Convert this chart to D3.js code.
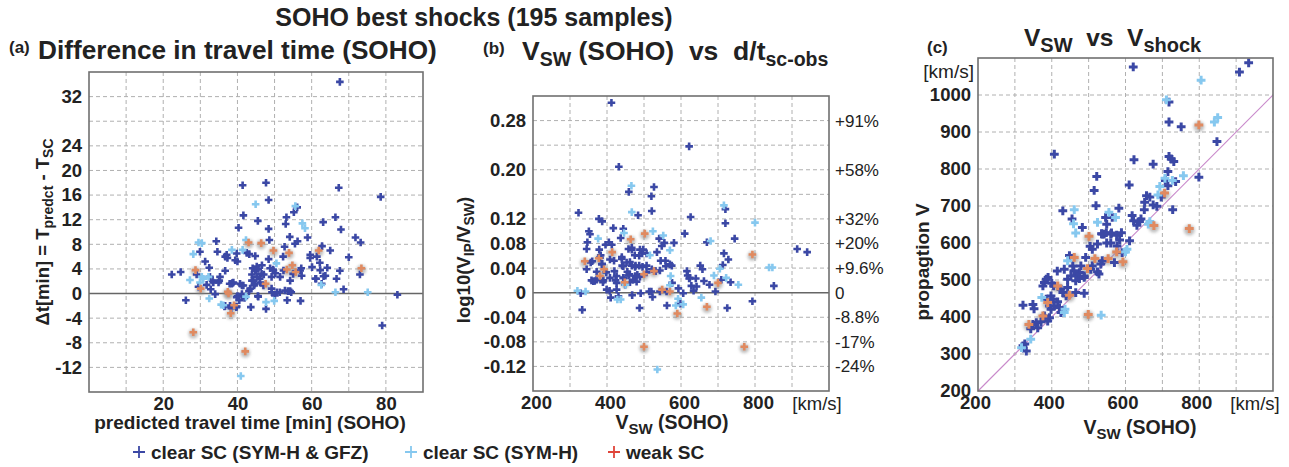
<!DOCTYPE html>
<html lang="en">
<head>
<meta charset="utf-8" />
<title>SOHO best shocks</title>
<script src="https://cdn.jsdelivr.net/npm/d3@7"></script>
<style>
body { margin: 0; background: #fff; }
svg text { font-family: "Liberation Sans", Arial, Helvetica, sans-serif; fill: #222; white-space: pre; }
</style>
</head>
<body>
<script>
// ---- panel (a): predicted travel time [min] vs dt [min]
var aDark = [[22.3,3.1],[24.7,3.5],[26.1,-1.1],[29,3.1],[29.9,6.8],[29.5,1.1],[31.3,5.2],[31.7,1.4],[32.8,0.7],[33.5,1.8],[34,-0.1],[34.3,8.5],[34.6,6.8],[35.1,2.1],[36.7,6.0],[36.7,3.7],[36.5,-2.1],[37.1,6.3],[37.9,1.6],[38.3,-2.4],[38.6,1.7],[39.4,5.4],[39.7,-2.2],[40,5.2],[40.3,10.7],[40.7,1.6],[40,-0.4],[40.5,-1.1],[41.2,1.3],[41.9,-0.7],[42.5,6.6],[43.1,0.4],[43.2,6.4],[43.6,-2.2],[43.9,3.1],[44.1,4.1],[44.3,2.1],[44.5,1.3],[44.8,6.1],[45,3.8],[45.2,4.4],[45.5,-0.4],[45.5,11.8],[46,2.4],[46.6,4.6],[47.1,3.1],[47.7,-2.5],[48.4,5.6],[48.6,8.7],[48.8,4.1],[49.3,0.2],[49.6,3.9],[50.2,3.3],[51.4,0.2],[52.3,6.0],[52.7,7.6],[53,11.3],[53.4,-1.1],[53.6,0.4],[54.1,9.2],[54.5,0.2],[55.0,3.2],[55.5,8.1],[56.2,8.5],[57.0,-1.2],[57.2,4.1],[58.9,9.1],[59.6,6.3],[60.1,4.3],[61,2.4],[61.4,6.0],[62.2,5.0],[62.3,3.8],[62.8,7.7],[63.1,11.6],[63.7,2.9],[65.0,7.0],[66.7,2.4],[67.6,3.7],[67.9,10.4],[68.6,0.7],[70,5.9],[71.8,9.1],[73.2,8.3],[73,3.1],[79,-5.2],[83.1,-0.2],
  [67.6,34.4],[41.4,17.6],[47.7,18],[48.4,15.2],[67.3,17.2],[78.6,15.7],[41.6,12.7],[53.2,12.4],[55.2,13.2],[56.1,14.0],[66.4,12.4],[48.4,10.5],[64.2,4.2],[59.6,5.8],
  [32.4,4.2],[37.3,5.8],[39.8,6.5],[32.6,2.7],[33.3,2.1],[34.9,1.8],[35.3,2.7],[38.5,1.6],[38.9,1.8],[41.6,1.3],[43.4,0.8],[41.2,-0.1],[44.7,3.75],[45.6,4.0],[46.5,3.2],[45.2,2.7],[43.9,2.1],[44.7,1.6],[46.1,1.8],[47,1.3],[49.7,3.75],[49.2,2.7],[39.8,-0.6],[42,-0.5],[45.6,-0.5],[36.7,-2],[38,-2],[39.8,-2.1],
  [52.4,3.75],[51.5,2.7],[54.2,2.1],[56.9,3.75],[57.3,2.9],[61.2,2.4],[63.2,2.8],[62.7,1.6],[50.6,0.2],[52.8,0.5],[54.2,0.4],[49.2,0.8],[50.1,-0.3]];
var aLight = [[27.2,2.2],[28.1,6.4],[29.5,8.3],[30.4,8.2],[29.9,1.8],[30.8,2.4],[32.2,2.7],[32.4,-0.8],[35.6,-1.8],[36.2,-1.9],[38.5,7.1],[40.9,-13.4],[41.4,7.1],[42.3,8.7],[47.7,-1.4],[49.9,-1.2],[50.5,4.9],[57.5,11.4],[58.2,10.6],[62.6,1.4],[66.4,0.2],[75.1,0.2],[44.9,14.5],[55.6,14.2],[42.3,-0.5],[30.4,2.7]];
var aWeak = [[28.7,3.8],[30.1,0.8],[37.4,0.3],[37.6,0],[38.2,-3.2],[39.1,-1.9],[42.1,-9.4],[43,8.3],[46.4,8.2],[47.6,1.6],[49.7,7.0],[53.3,3.9],[53.9,6.6],[54.8,4.6],[55.7,3.5],[61.9,7.0],[73.4,4.1],[28.1,-6.3]];
var aXTicks = [20, 40, 60, 80];
var aXGrid = [10, 20, 30, 40, 50, 60, 70, 80];
var aYTicks = [32, 24, 20, 16, 12, 8, 4, 0, -4, -8, -12];
var aYGrid = [-12, -8, -4, 4, 8, 12, 16, 20, 24, 28, 32];

// ---- panel (b): V_SW [km/s] vs log10(V_IP/V_SW)
var bDark = [[329,-0.001],[333,-0.028],[345,0.038],[347,0.082],[351,0.100],[354,0.095],[358,0.020],[360,0.051],[367,0.019],[372,0.034],[383,0.061],[387,0.047],[389,0.017],[396,0.078],[398,0.033],[405,0.082],[407,0.003],[410,-0.008],[417,0.105],[419,0.052],[420,0.035],[423,0.020],[426,0.005],[437,0.089],[440,0.058],[441,0.044],[444,0.024],[455,0.034],[460,0.030],[462,0.050],[467,0.073],[468,-0.004],[471,0.021],[475,0.061],[477,0.044],[482,0.029],[488,-0.025],[491,-0.001],[495,0.064],[507,0.044],[520,0.002],[523,-0.007],[531,0.035],[535,0.066],[541,0.088],[543,0.002],[545,0.052],[555,0.081],[558,0.052],[562,-0.021],[575,0.044],[576,0.016],[581,0.081],[598,-0.018],[606,-0.001],[610,0.096],[616,0.035],[618,0.028],[622,0.023],[628,0.011],[634,0.003],[640,0.023],[652,0.044],[658,0.038],[662,0.019],[670,0.082],[677,0.013],[693,0.002],[709,0.021],[713,0.045],[716,0.064],[725,-0.025],[728,0.054],[734,0.017],[745,0.088],[793,-0.014],[851,0.011],[914,0.071],[941,0.066],
  [412,0.309],[622,0.238],[432,0.205],[527,0.172],[459,0.164],[520,0.157],[521,0.133],[484,0.126],[323,0.130],[378,0.120],[387,0.116],[626,0.123],[720,0.136],[720,0.113],
  [444,0.104],[345,0.071],[379,0.070],[413,0.078],[458,0.071],[467,0.070],[489,0.070],[498,0.070],[487,0.060],[507,0.064],[548,0.076],[381,0.057],[386,0.046],[356,0.049],[408,0.054],[440,0.055],[444,0.043],[453,0.049],[467,0.044],[476,0.042],[487,0.044],[496,0.042],[507,0.033],[521,0.038],[530,0.035],[543,0.036],[559,0.043],[570,0.046],
  [363,0.0185],[372,0.021],[390,0.020],[408,0.024],[426,0.027],[444,0.024],[458,0.028],[476,0.027],[489,0.026],[426,0.016],[449,0.013],[462,0.017],[480,0.018],[399,0.005],[431,-0.006],[514,0.002],[561,0.002],[593,0.007],[624,0.024],[642,0.010]];
var bLight = [[320,0.003],[342,0.002],[376,0.088],[428,-0.011],[437,-0.011],[446,0.097],[450,0.013],[516,0.061],[524,0.100],[536,-0.125],[552,0.093],[572,0.027],[586,-0.021],[592,-0.010],[655,-0.008],[680,0.084],[689,0.028],[705,0.039],[722,0.024],[755,0.013],[800,0.114],[838,0.041],[847,0.041],[466,0.174],[467,0.131],[716,0.142],[570,0.069],[606,-0.019],[570,0.012]];
var bWeak = [[340,0.051],[378,0.056],[381,0.027],[392,0.038],[414,0.066],[448,0.017],[464,0.087],[500,0.030],[502,0.096],[527,0.035],[549,0.005],[570,0.002],[590,-0.034],[670,-0.023],[700,0.016],[771,-0.088],[793,0.062],[500,-0.088]];
var bXTicks = [200, 400, 600, 800];
var bXGrid = [300, 400, 500, 600, 700, 800, 900];
var bYTicks = [0.28, 0.20, 0.12, 0.08, 0.04, 0, -0.04, -0.08, -0.12];
var bPct = ["+91%", "+58%", "+32%", "+20%", "+9.6%", "0", "-8.8%", "-17%", "-24%"];
var bYGrid = [-0.12, -0.08, -0.04, 0.04, 0.08, 0.12, 0.16, 0.20, 0.24, 0.28];

// ---- panel (c): V_SW vs propagation V [km/s]
var cDark = [[430,687],[455,665],[564,669],[582,694],[618,674],[622,660],[631,648],[642,665],[651,690],[728,690],[546,669],[549,651],[483,642],[537,624],[542,624],[560,624],[576,621],[549,600],[560,600],[524,597],[504,591],[510,583],[577,592],[611,606],[591,574],[570,547],[537,552],[533,543],[492,561],[506,529],[524,522],[528,516],[510,538],[479,538],[475,520],[468,513],[488,511],[448,566],[457,538],[460,525],[434,529],[415,524],[443,502],[452,511],[465,498],[475,504],[488,507],[405,484],[400,491],[380,493],[385,502],[390,507],[376,484],[425,475],[430,466],[443,480],[439,457],[465,466],[488,464],[385,448],[398,457],[403,448],[394,430],[398,421],[407,430],[416,441],[421,425],[425,412],[430,418],[349,434],[352,422],[322,432],[380,403],[394,398],[389,389],[371,387],[358,385],[349,380],[362,371],[343,368],[327,327],[322,322],[331,308],[685,699],[589,628],[584,608],[638,658],[548,628],[562,627],[535,625],
  [621,1076],[934,1087],[909,1062],[718,981],[718,927],[751,914],[848,874],[407,840],[623,825],[675,813],[718,834],[724,827],[731,820],[715,793],[799,778],[736,766],[708,769],[715,755],[522,780],[515,742],[610,757],[697,724],[657,728],[666,724],[652,710],[675,703],[520,701]];
var cLight = [[461,690],[555,683],[573,669],[662,651],[524,656],[465,627],[604,583],[600,576],[443,552],[373,453],[436,421],[434,412],[534,405],[343,340],[318,317],[805,1040],[711,987],[841,927],[850,939],[757,782],[727,769],[693,753],[688,730],[707,775],[459,652],[666,658]];
var cWeak = [[501,618],[576,576],[593,549],[553,558],[517,558],[497,531],[461,561],[416,484],[448,459],[389,439],[376,403],[338,380],[499,407],[773,639],[799,919],[706,735],[677,647]];
var cXTicks = [200, 400, 600, 800];
var cXGrid = [300, 400, 500, 600, 700, 800, 900];
var cYTicks = [200, 300, 400, 500, 600, 700, 800, 900, 1000];
var cYGrid = [300, 400, 500, 600, 700, 800, 900, 1000];

var legendItems = ["clear SC (SYM-H & GFZ)", "clear SC (SYM-H)", "weak SC"];

var colDark = "#3b48a5", colLight = "#86c8ef", colWeak = "#e08a60", colWeakKey = "#e0453a";
var w = 1289, h = 467;

var svg = d3.select("body").append("svg").attr("width", w).attr("height", h);
var defs = svg.append("defs");
defs.append("filter").attr("id", "blur")
    .attr("x", "-1").attr("y", "-1").attr("width", "3").attr("height", "3")
    .append("feGaussianBlur").attr("stdDeviation", 1.6);

// text with subscripts: parts = [[str, isSub], ...]
function rich(sel, parts, size, subSize, subShift) {
    var shifted = false;
    parts.forEach(function(p) {
        var t = sel.append("tspan").text(p[0]);
        if (p[1]) {
            t.attr("font-size", subSize);
            if (!shifted) { t.attr("dy", subShift); shifted = true; }
        } else {
            t.attr("font-size", size);
            if (shifted) { t.attr("dy", -subShift); shifted = false; }
        }
    });
    return sel;
}

function panel(o) {
    var g = svg.append("g");
    var x = d3.scaleLinear().domain(o.xd).range([o.l, o.r]);
    var y = d3.scaleLinear().domain(o.yd).range([o.b, o.t]);

    // grid
    g.selectAll(null).data(o.xGrid).enter().append("line")
        .attr("x1", function(d) { return x(d); }).attr("x2", function(d) { return x(d); })
        .attr("y1", o.t).attr("y2", o.b)
        .attr("stroke", "#b0b0b0").attr("stroke-width", 1).attr("stroke-dasharray", "4,3");
    g.selectAll(null).data(o.yGrid).enter().append("line")
        .attr("y1", function(d) { return y(d); }).attr("y2", function(d) { return y(d); })
        .attr("x1", o.l).attr("x2", o.r)
        .attr("stroke", "#b0b0b0").attr("stroke-width", 1).attr("stroke-dasharray", "4,3");

    if (o.zero) {
        g.append("line").attr("x1", o.l).attr("x2", o.r)
            .attr("y1", y(0)).attr("y2", y(0))
            .attr("stroke", "#666").attr("stroke-width", 1.5);
    }
    if (o.diag) {
        g.append("line").attr("x1", x(200)).attr("y1", y(200))
            .attr("x2", x(1000)).attr("y2", y(1000))
            .attr("stroke", "#c98acb").attr("stroke-width", 1.1);
    }

    // markers
    var s = o.ms, sw = o.msw;
    var cross = "M" + (-s) + ",0H" + s + "M0," + (-s) + "V" + s;
    function tr(d) { return "translate(" + x(d[0]) + "," + y(d[1]) + ")"; }
    g.selectAll(null).data(o.weak).enter().append("circle")
        .attr("cx", function(d) { return x(d[0]); }).attr("cy", function(d) { return y(d[1]) + 1.5; })
        .attr("r", s + 1).attr("fill", "#8a8a8a").attr("opacity", 0.55)
        .attr("filter", "url(#blur)");
    g.selectAll(null).data(o.dark).enter().append("path")
        .attr("d", cross).attr("transform", tr)
        .attr("stroke", colDark).attr("stroke-width", sw);
    g.selectAll(null).data(o.light).enter().append("path")
        .attr("d", cross).attr("transform", tr)
        .attr("stroke", colLight).attr("stroke-width", sw);
    g.selectAll(null).data(o.weak).enter().append("path")
        .attr("d", cross).attr("transform", tr)
        .attr("stroke", colWeak).attr("stroke-width", sw);

    // frame
    g.append("rect").attr("x", o.l).attr("y", o.t)
        .attr("width", o.r - o.l).attr("height", o.b - o.t)
        .attr("fill", "none").attr("stroke", "#707070").attr("stroke-width", 1.6);

    // axes
    var ax = g.append("g").attr("transform", "translate(0," + o.b + ")")
        .call(d3.axisBottom(x).tickValues(o.xTicks).tickSize(0).tickPadding(5)
            .tickFormat(function(d) { return String(d); }));
    var ay = g.append("g").attr("transform", "translate(" + o.l + ",0)")
        .call(d3.axisLeft(y).tickValues(o.yTicks).tickSize(0).tickPadding(7)
            .tickFormat(o.yFmt));
    [ax, ay].forEach(function(a) {
        a.select(".domain").remove();
        a.attr("font-family", null).attr("font-size", null);
        a.selectAll("text").attr("font-size", 18.5).attr("font-weight", "bold").attr("fill", "#222");
    });
    ax.selectAll("text").attr("dx", o.xdx || 0);
    if (o.pct) {
        var ar = g.append("g").attr("transform", "translate(" + o.r + ",0)")
            .call(d3.axisRight(y).tickValues(o.yTicks).tickSize(0).tickPadding(6)
                .tickFormat(function(d, i) { return o.pct[i]; }));
        ar.select(".domain").remove();
        ar.attr("font-family", null).attr("font-size", null);
        ar.selectAll("text").attr("font-size", 17).attr("fill", "#222");
    }
    if (o.unit) {
        g.append("text").attr("x", o.unit[0]).attr("y", o.unit[1])
            .attr("text-anchor", "middle").attr("font-size", 18.5).text("[km/s]");
    }
    return g;
}

panel({ l: 89, r: 423, t: 72, b: 392, xd: [0, 90], yd: [-16, 36],
    xGrid: aXGrid, yGrid: aYGrid, xTicks: aXTicks, yTicks: aYTicks,
    yFmt: function(d) { return String(d); }, zero: true,
    dark: aDark, light: aLight, weak: aWeak, ms: 3.8, msw: 2.6 });

panel({ l: 533, r: 829, t: 96, b: 391, xd: [200, 1000], yd: [-0.16, 0.32],
    xGrid: bXGrid, yGrid: bYGrid, xTicks: bXTicks, yTicks: bYTicks, xdx: 3,
    yFmt: function(d) { return d === 0 ? "0" : d.toFixed(2); }, zero: true, pct: bPct,
    unit: [817, 410], dark: bDark, light: bLight, weak: bWeak, ms: 3.8, msw: 2.6 });

panel({ l: 978, r: 1273, t: 58, b: 391, xd: [200, 1000], yd: [200, 1100],
    xGrid: cXGrid, yGrid: cYGrid, xTicks: cXTicks, yTicks: cYTicks, xdx: -3,
    yFmt: function(d) { return String(d); }, diag: true,
    unit: [1255, 410], dark: cDark, light: cLight, weak: cWeak, ms: 4.4, msw: 3 });

// titles
svg.append("text").attr("x", 474).attr("y", 26).attr("text-anchor", "middle")
    .attr("font-size", 25).attr("font-weight", "bold").text("SOHO best shocks (195 samples)");

svg.append("text").attr("x", 9).attr("y", 53).attr("font-size", 17).attr("font-weight", "bold").text("(a)");
svg.append("text").attr("x", 38).attr("y", 59).attr("font-size", 26.2).attr("font-weight", "bold")
    .text("Difference in travel time (SOHO)");

svg.append("text").attr("x", 483).attr("y", 54).attr("font-size", 17).attr("font-weight", "bold").text("(b)");
rich(svg.append("text").attr("x", 522).attr("y", 60).attr("font-weight", "bold"),
    [["V", 0], ["SW", 1], [" (SOHO)  vs  d/t", 0], ["sc-obs", 1]], 26.5, 19.5, 6);

svg.append("text").attr("x", 927).attr("y", 53).attr("font-size", 17).attr("font-weight", "bold").text("(c)");
rich(svg.append("text").attr("x", 1024).attr("y", 46).attr("font-weight", "bold"),
    [["V", 0], ["SW", 1], ["  vs  V", 0], ["shock", 1]], 24.5, 20, 6);

// axis titles
svg.append("text").attr("x", 250).attr("y", 429).attr("text-anchor", "middle")
    .attr("font-size", 19).attr("font-weight", "bold").text("predicted travel time [min] (SOHO)");
rich(svg.append("text").attr("x", 672).attr("y", 429).attr("text-anchor", "middle").attr("font-weight", "bold"),
    [["V", 0], ["SW", 1], [" (SOHO)", 0]], 19.5, 15, 5);
rich(svg.append("text").attr("x", 1140).attr("y", 434).attr("text-anchor", "middle").attr("font-weight", "bold"),
    [["V", 0], ["SW", 1], [" (SOHO)", 0]], 19.5, 15, 5);

rich(svg.append("text").attr("transform", "translate(49,232) rotate(-90)").attr("text-anchor", "middle").attr("font-weight", "bold"),
    [["\u0394t[min] = T", 0], ["predct", 1], [" - T", 0], ["SC", 1]], 18.5, 14, 4);
rich(svg.append("text").attr("transform", "translate(470,260) rotate(-90)").attr("text-anchor", "middle").attr("font-weight", "bold"),
    [["log10(V", 0], ["IP", 1], ["/V", 0], ["SW", 1], [")", 0]], 18.5, 14, 4);
svg.append("text").attr("transform", "translate(929,262) rotate(-90)").attr("text-anchor", "middle")
    .attr("font-size", 19).attr("font-weight", "bold").text("propagtion V");
svg.append("text").attr("x", 974).attr("y", 78).attr("text-anchor", "end")
    .attr("font-size", 19).text("[km/s]");

// legend
var legX = [139, 411, 614];
var legCol = [colDark, colLight, colWeakKey];
var leg = svg.append("g");
legendItems.forEach(function(t, i) {
    leg.append("path").attr("d", "M-6,0H6M0,-6V6")
        .attr("transform", "translate(" + legX[i] + ",452)")
        .attr("stroke", legCol[i]).attr("stroke-width", 1.8);
    leg.append("text").attr("x", legX[i] + 12).attr("y", 459)
        .attr("font-size", 19).attr("font-weight", "bold").text(t);
});
</script>
</body>
</html>
